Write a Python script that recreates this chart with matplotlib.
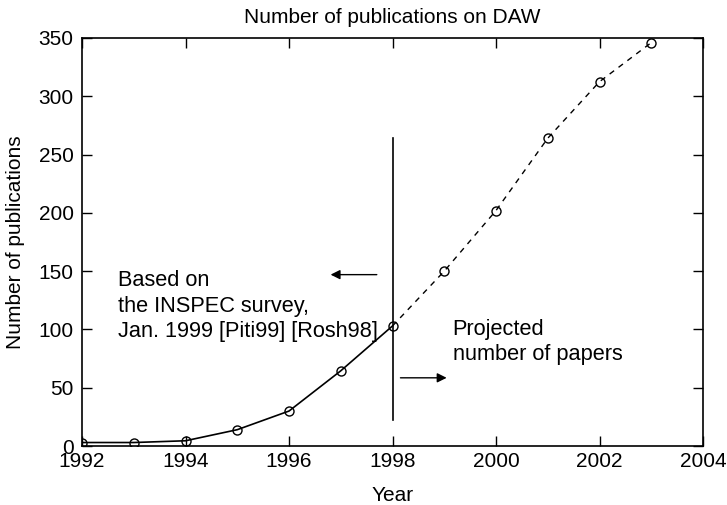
import matplotlib.pyplot as plt

# Datos
years = [1992, 1993, 1994, 1995, 1996, 1997, 1998, 1999, 2000, 2001, 2002, 2003]
counts = [3, 3, 4.5, 14, 30, 64.5, 103, 150, 202, 264, 312.5, 346]
survey_end = 1998  # a partir de aqui son proyecciones

x_ticks = [1992, 1994, 1996, 1998, 2000, 2002, 2004]
y_ticks = [0, 50, 100, 150, 200, 250, 300, 350]

plt.rcParams["font.family"] = ["Liberation Sans", "DejaVu Sans"]
plt.rcParams["font.size"] = 15

fig = plt.figure(figsize=(7.27, 5.05), dpi=100)
ax = fig.add_axes([0.1128, 0.1168, 0.967 - 0.1128, 0.9248 - 0.1168])

i_end = years.index(survey_end)
ax.plot(years[:i_end + 1], counts[:i_end + 1], "-", color="black", lw=1.2)
ax.plot(years[i_end:], counts[i_end:], "--", color="black", lw=1.0, dashes=(4, 4))
ax.plot(years, counts, "o", mfc="none", mec="black", ms=6.5, mew=1.0)

# Linea vertical que separa datos reales de proyectados
ax.plot([survey_end, survey_end], [22, 264], color="black", lw=1.2)

ax.annotate("", xy=(1996.75, 147), xytext=(1997.75, 147),
            arrowprops=dict(arrowstyle="-|>", color="black", lw=1.0, mutation_scale=14))
ax.annotate("", xy=(1999.1, 58.5), xytext=(1998.1, 58.5),
            arrowprops=dict(arrowstyle="-|>", color="black", lw=1.0, mutation_scale=14))

ax.text(1992.69, 120, "Based on\nthe INSPEC survey,\nJan. 1999 [Piti99] [Rosh98]",
        ha="left", va="center", fontsize=15.7, linespacing=1.27)
ax.text(1999.16, 89, "Projected\nnumber of papers",
        ha="left", va="center", fontsize=15.7, linespacing=1.27)

ax.set_xlim(1992, 2004)
ax.set_ylim(0, 350)
ax.set_xticks(x_ticks)
ax.set_yticks(y_ticks)
ax.tick_params(direction="in", length=7.5, width=1.0, top=True, right=True)
ax.tick_params(axis="x", pad=4)
ax.tick_params(axis="y", pad=6)
for s in ax.spines.values():
    s.set_linewidth(1.2)

ax.set_title("Number of publications on DAW", fontsize=15, pad=11)
ax.set_xlabel("Year", labelpad=11)
ax.set_ylabel("Number of publications", labelpad=10)

fig.savefig("out.png", dpi=100)
